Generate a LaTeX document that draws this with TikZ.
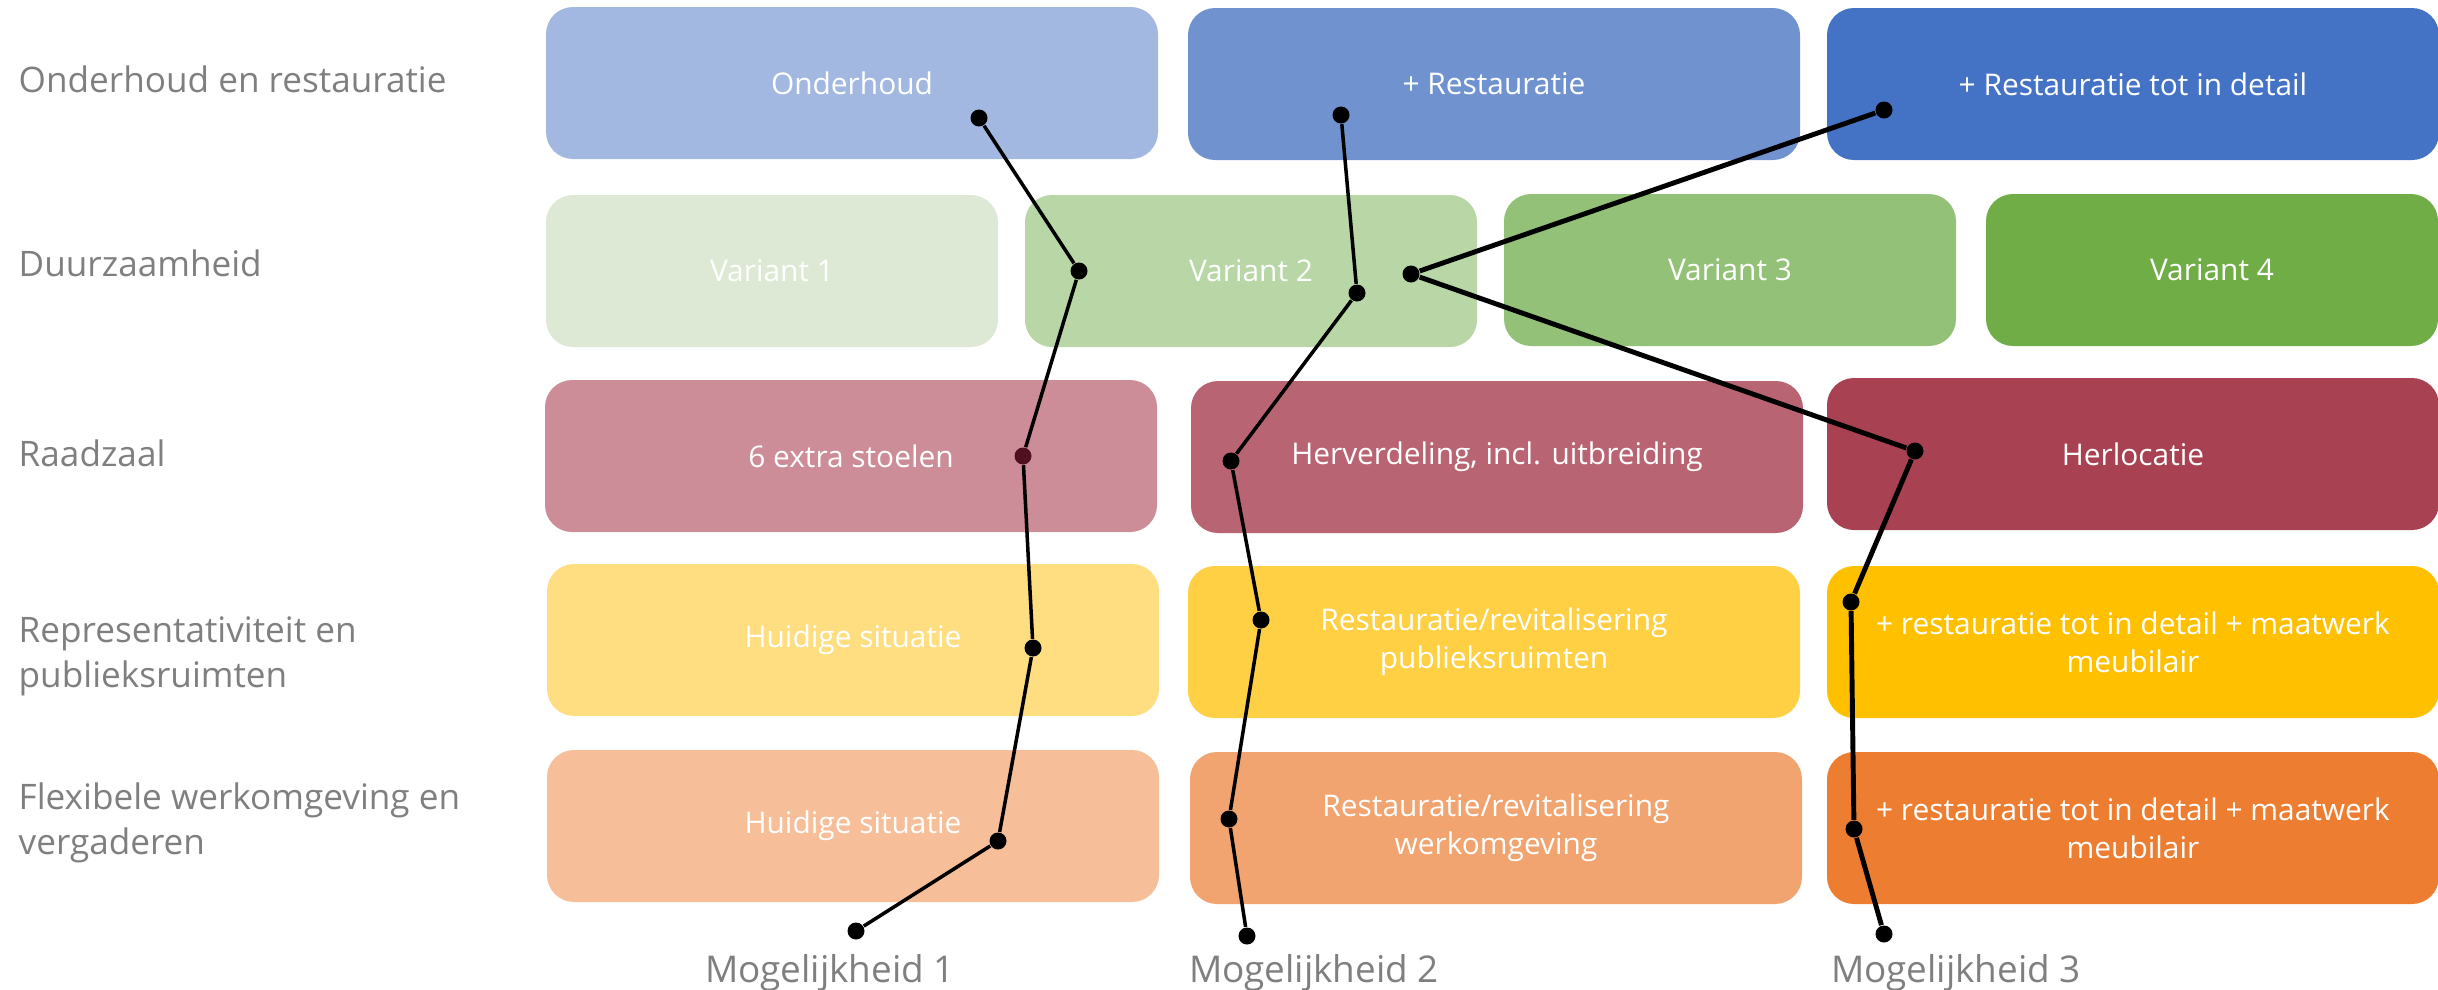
\documentclass[tikz,border=0pt]{standalone}
\usepackage{fontspec}
\setmainfont{Open Sans}
\usepackage{xcolor}
\usepackage{tikz}
\usetikzlibrary{positioning,calc}
\definecolor{lblgray}{RGB}{127,127,127}
\definecolor{blueA}{RGB}{162,184,224}
\definecolor{blueB}{RGB}{112,147,208}
\definecolor{blueC}{RGB}{68,114,196}
\definecolor{greenA}{RGB}{221,233,212}
\definecolor{greenB}{RGB}{184,214,166}
\definecolor{greenC}{RGB}{148,193,120}
\definecolor{greenD}{RGB}{112,173,71}
\definecolor{redA}{RGB}{204,140,152}
\definecolor{redB}{RGB}{184,100,114}
\definecolor{redC}{RGB}{168,65,82}
\definecolor{yelA}{RGB}{255,222,130}
\definecolor{yelB}{RGB}{255,208,67}
\definecolor{yelC}{RGB}{255,192,0}
\definecolor{orA}{RGB}{246,190,153}
\definecolor{orB}{RGB}{241,164,111}
\definecolor{orC}{RGB}{237,125,49}
\definecolor{dotred}{RGB}{80,16,32}
\tikzset{
  opt/.style={rounded corners=0.27cm, inner sep=4pt, align=center, text=white, minimum height=1.52cm, font=\fontsize{8.5}{10.8}\selectfont},
  wide/.style={opt, minimum width=6.12cm},
  narrow/.style={opt, minimum width=4.52cm},
  rowlbl/.style={align=left, inner sep=0pt, text=lblgray, font=\fontsize{10}{12.8}\selectfont},
  moglbl/.style={anchor=base, text=lblgray, font=\fontsize{10.5}{12.8}\selectfont},
  pick/.style={circle, fill=black, inner sep=0pt, minimum size=0.17cm},
  route/.style={line width=1pt, draw=black},
}

\begin{document}
\begin{tikzpicture}
    \useasboundingbox (0,0) rectangle (24.38,-9.89);
    % themes
    \node[rowlbl, anchor=base west] (tOnd) at (0.18,-0.92) {Onderhoud en restauratie};
    \node[rowlbl, anchor=base west] (tDuur) at (0.18,-2.76) {Duurzaamheid};
    \node[rowlbl, anchor=base west] (tRaad) at (0.18,-4.66) {Raadzaal};
    \node[rowlbl, anchor=west] (tRepr) at (0.18,-6.56) {Representativiteit en\\publieksruimten};
    \node[rowlbl, anchor=west] (tFlex) at (0.18,-8.23) {Flexibele werkomgeving en\\vergaderen};

    % options
    \node[wide, fill=blueA] (ond) at (8.52,-0.83) {Onderhoud};
    \node[wide, fill=blueB] (rest) at (14.94,-0.84) {+ Restauratie};
    \node[wide, fill=blueC] (restD) at (21.33,-0.84) {+ Restauratie tot in detail};

    \node[narrow, fill=greenA] (var1) at (7.72,-2.71) {Variant 1};
    \node[narrow, fill=greenB] (var2) at (12.51,-2.71) {Variant 2};
    \node[narrow, fill=greenC] (var3) at (17.30,-2.70) {Variant 3};
    \node[narrow, fill=greenD] (var4) at (22.12,-2.70) {Variant 4};

    \node[wide, fill=redA] (stoel) at (8.51,-4.56) {6 extra stoelen};
    \node[wide, fill=redB] (herv) at (14.97,-4.57) {Herverdeling, incl. uitbreiding};
    \node[wide, fill=redC] (herl) at (21.33,-4.54) {Herlocatie};

    \node[wide, fill=yelA] (huid1) at (8.53,-6.40) {Huidige situatie};
    \node[wide, fill=yelB] (publ) at (14.94,-6.42) {Restauratie/revitalisering\\publieksruimten};
    \node[wide, fill=yelC] (maat1) at (21.33,-6.42) {+ restauratie tot in detail + maatwerk\\meubilair};

    \node[wide, fill=orA] (huid2) at (8.53,-8.26) {Huidige situatie};
    \node[wide, fill=orB] (werk) at (14.96,-8.28) {Restauratie/revitalisering\\werkomgeving};
    \node[wide, fill=orC] (maat2) at (21.33,-8.28) {+ restauratie tot in detail + maatwerk\\meubilair};

    % possibilities
    \node[moglbl] (mog1) at (8.30,-9.82) {Mogelijkheid 1};
    \node[moglbl] (mog2) at (13.14,-9.82) {Mogelijkheid 2};
    \node[moglbl] (mog3) at (19.56,-9.82) {Mogelijkheid 3};

    \foreach \n/\x/\y in {a1/9.79/1.18, a2/10.79/2.71, a4/10.33/6.48, a5/9.98/8.41, a6/8.56/9.31,
                          b1/13.41/1.15, b2/13.57/2.93, b3/12.31/4.61, b4/12.61/6.20, b5/12.29/8.19, b6/12.47/9.36,
                          c1/18.84/1.10, c2/14.11/2.74, c3/19.15/4.51, c4/18.51/6.02, c5/18.54/8.29, c6/18.84/9.34}
      \node[pick] (\n) at (\x,-\y) {};
    \node[pick, fill=dotred] (a3) at (10.23,-4.56) {};

    \draw[route] (a1) -- (a2) -- (a3) -- (a4) -- (a5) -- (a6);
    \draw[route] (b1) -- (b2) -- (b3) -- (b4) -- (b5) -- (b6);
    \draw[route, line width=1.4pt] (c1) -- (c2) -- (c3) -- (c4) -- (c5) -- (c6);
\end{tikzpicture}
\end{document}
